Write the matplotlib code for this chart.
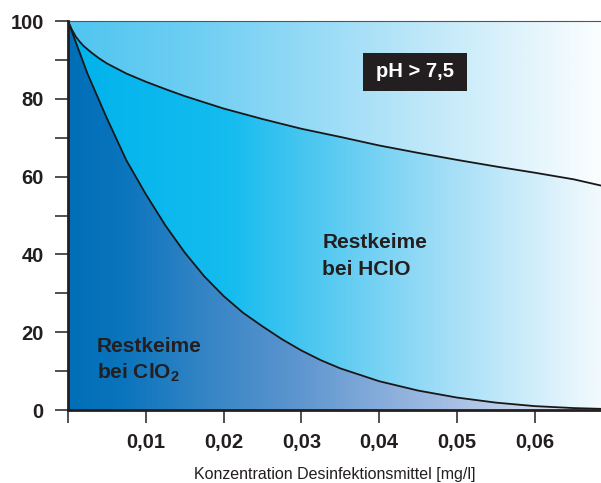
import matplotlib
matplotlib.use('Agg')
import matplotlib.pyplot as plt
import numpy as np
from matplotlib.colors import LinearSegmentedColormap
from matplotlib.patches import Polygon, Rectangle
from matplotlib.ticker import FixedLocator, FuncFormatter

# Restkeime [%] ueber Konzentration [mg/l]
x_hclo = [0, 0.0005, 0.001, 0.0015, 0.002, 0.003, 0.004, 0.005, 0.0075, 0.01, 0.0125,
          0.015, 0.02, 0.025, 0.03, 0.035, 0.04, 0.045, 0.05, 0.055, 0.06, 0.065, 0.0685]
y_hclo = [100, 97.8, 96.0, 94.7, 93.6, 91.9, 90.4, 89.1, 86.5, 84.4, 82.5,
          80.7, 77.5, 74.8, 72.3, 70.2, 68.0, 66.1, 64.3, 62.6, 61.0, 59.3, 57.7]

x_clo2 = [0, 0.0025, 0.005, 0.0075, 0.01, 0.0125, 0.015, 0.0175, 0.02, 0.0225,
          0.025, 0.0275, 0.03, 0.0325, 0.035, 0.04, 0.045, 0.05, 0.055, 0.06,
          0.065, 0.0685]
y_clo2 = [100, 86.5, 75, 64.2, 55.5, 47.5, 40.5, 34.4, 29.3, 25.0,
          21.5, 18.2, 15.3, 12.8, 10.7, 7.4, 5.0, 3.2, 1.9, 1.0,
          0.5, 0.3]

x_ticks = [0, 0.01, 0.02, 0.03, 0.04, 0.05, 0.06]
y_ticks = [0, 20, 40, 60, 80, 100]
y_minor = [10, 30, 50, 70, 90]

x_max = 0.0685
txt = '#231f20'

plt.rcParams['font.family'] = ['Liberation Sans', 'DejaVu Sans']
plt.rcParams['mathtext.fontset'] = 'custom'
plt.rcParams['mathtext.rm'] = 'Liberation Sans:bold'

fig = plt.figure(figsize=(6.01, 4.83), dpi=100)
ax = fig.add_axes([0.1131, 0.1511, 0.8869, 0.8054])
ax.set_xlim(0, x_max)
ax.set_ylim(0, 100)

# gradient colours for the three areas (left -> right)
cmap_top = LinearSegmentedColormap.from_list('top', [
    (0, '#4fc5f0'), (0.25, '#70cff3'), (0.45, '#95daf6'), (0.72, '#c8ebfa'), (1, '#fbfeff')])
cmap_mid = LinearSegmentedColormap.from_list('mid', [
    (0, '#00b3ec'), (0.3, '#14bcef'), (0.435, '#45c5f0'), (0.72, '#a6dff7'), (1, '#f3fafe')])
cmap_low = LinearSegmentedColormap.from_list('low', [
    (0, '#006fb8'), (0.1, '#0a74bc'), (0.25, '#3384c5'), (0.435, '#5e96cf'),
    (0.62, '#8fb1dd'), (0.72, '#a6bfe3'), (1, '#e8eef8')])

grad = np.linspace(0, 1, 512).reshape(1, -1)

upper = np.column_stack([x_hclo, y_hclo])
lower = np.column_stack([x_clo2, y_clo2])

regions = [
    (np.vstack([upper, [[x_max, 100], [0, 100]]]), cmap_top),
    (np.vstack([upper, lower[::-1]]), cmap_mid),
    (np.vstack([lower, [[x_max, 0], [0, 0]]]), cmap_low),
]
for verts, cm in regions:
    poly = Polygon(verts, closed=True, facecolor='none', edgecolor='none')
    ax.add_patch(poly)
    im = ax.imshow(grad, cmap=cm, extent=(0, x_max, 0, 100), aspect='auto',
                   interpolation='bilinear', zorder=0)
    im.set_clip_path(poly)

ax.plot(x_hclo, y_hclo, color='#1a1718', lw=1.3, zorder=3)
ax.plot(x_clo2, y_clo2, color='#1a1718', lw=1.3, zorder=3)

# spines
ax.spines['right'].set_visible(False)
ax.spines['top'].set_color('#555555')
ax.spines['top'].set_linewidth(0.8)
for s in ['left', 'bottom']:
    ax.spines[s].set_color(txt)
    ax.spines[s].set_linewidth(2.0)
    ax.spines[s].set_zorder(4)

ax.xaxis.set_major_locator(FixedLocator(x_ticks))
ax.xaxis.set_major_formatter(FuncFormatter(
    lambda v, p: '' if abs(v) < 1e-9 else f'{v:.2f}'.replace('.', ',')))
ax.yaxis.set_major_locator(FixedLocator(y_ticks))
ax.yaxis.set_minor_locator(FixedLocator(y_minor))

ax.tick_params(axis='both', which='both', direction='out', length=9.5, width=1.1,
               color=txt)
ax.tick_params(axis='y', which='major', pad=8)
ax.tick_params(axis='x', which='major', pad=7)
for lab in ax.get_xticklabels() + ax.get_yticklabels():
    lab.set_fontsize(14.5)
    lab.set_fontweight('bold')
    lab.set_color(txt)

ax.set_xlabel('Konzentration Desinfektionsmittel [mg/l]', fontsize=11.5, color=txt,
              labelpad=10.5)

# annotations
fs = 15
ax.text(0.0327, 41.6, 'Restkeime', fontsize=fs, fontweight='bold', color=txt,
        ha='left', va='baseline', zorder=5)
ax.text(0.0327, 34.7, 'bei HClO', fontsize=fs, fontweight='bold', color=txt,
        ha='left', va='baseline', zorder=5)
ax.text(0.00368, 15.0, 'Restkeime', fontsize=fs, fontweight='bold', color=txt,
        ha='left', va='baseline', zorder=5)
ax.text(0.00368, 8.15, r'bei ClO$_\mathregular{2}$', fontsize=fs, fontweight='bold',
        color=txt, ha='left', va='baseline', zorder=5)

ax.add_patch(Rectangle((0.03788, 82.1), 0.05125 - 0.03788, 91.7 - 82.1,
                       facecolor='#231f20', edgecolor='none', zorder=5))
ax.text(0.04456, 85.7, 'pH > 7,5', fontsize=14.5, fontweight='bold', color='white',
        ha='center', va='baseline', zorder=6)

fig.savefig('out.png', dpi=100)
